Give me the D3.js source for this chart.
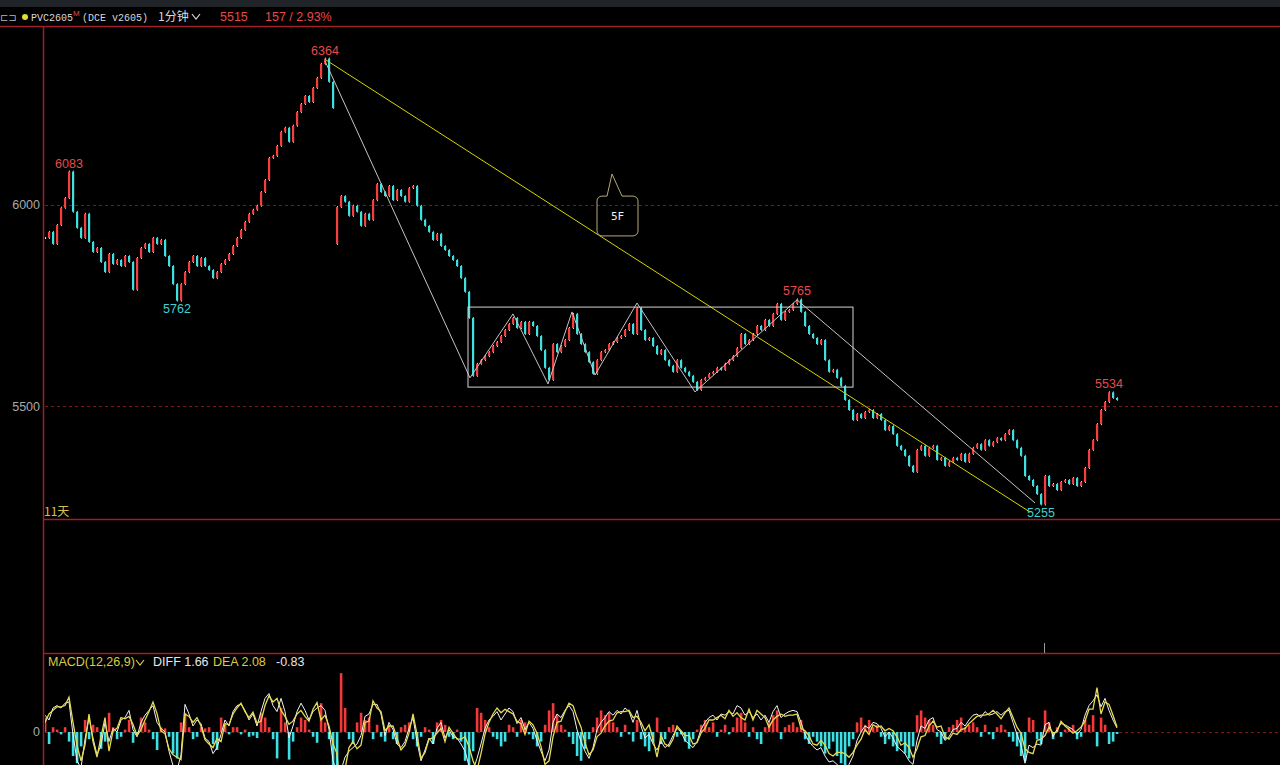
<!DOCTYPE html>
<html><head><meta charset="utf-8">
<script src="https://cdn.jsdelivr.net/npm/d3@7"></script>
<style>html,body{margin:0;padding:0;background:#000;overflow:hidden}</style>
</head><body><svg id="c" width="1280" height="765"></svg>
<script>
// ---------- DATA ----------
const closes = [
5918,5933,5903,5950,5993,6017,6083,5983,5943,5918,
5978,5908,5883,5893,5858,5833,5878,5853,5863,5848,
5873,5858,5789,5868,5893,5903,5883,5918,5903,5913,
5873,5848,5803,5762,5803,5833,5858,5873,5848,5868,
5848,5838,5818,5833,5853,5863,5878,5898,5918,5938,
5958,5978,5988,5998,6032,6062,6117,6122,6147,6182,
6192,6157,6197,6231,6251,6271,6256,6291,6316,6351,
6364,6306,6241,5995,6022,6008,5973,5998,5983,5948,
5978,5963,6012,6052,6032,6022,6047,6012,6037,6022,
6008,6042,6047,5998,5963,5948,5933,5913,5928,5898,
5888,5873,5863,5848,5818,5784,5719,5575,5605,5614,
5624,5634,5649,5659,5674,5689,5704,5719,5694,5709,
5679,5709,5699,5674,5639,5595,5565,5654,5634,5649,
5664,5694,5729,5679,5654,5634,5609,5580,5614,5634,
5639,5654,5659,5669,5674,5689,5704,5679,5744,5689,
5664,5669,5649,5629,5639,5614,5600,5585,5614,5595,
5585,5575,5560,5540,5565,5570,5580,5585,5595,5590,
5605,5614,5624,5644,5679,5654,5664,5679,5699,5689,
5714,5699,5729,5754,5714,5734,5739,5754,5765,5734,
5699,5679,5669,5654,5664,5614,5585,5590,5570,5550,
5515,5490,5465,5480,5470,5485,5490,5470,5480,5465,
5440,5450,5430,5401,5391,5376,5351,5336,5391,5401,
5376,5396,5401,5366,5371,5351,5361,5371,5366,5381,
5361,5381,5396,5405,5391,5415,5401,5410,5420,5415,
5430,5440,5415,5396,5376,5326,5316,5301,5281,5255,
5326,5301,5306,5291,5311,5316,5306,5321,5301,5311,
5346,5391,5415,5455,5490,5510,5534,5520,5515
];
// session gap: candle that opens away from the previous close
const gapOpens = [{index: 73, open: 5903}];

const diffs = [
7,5,10,11,10,12,12.5,-1,-12,-15,
-3,6,-2.5,-9.5,-5.5,4,-4,1.5,0,5,
6,9,1,-2,4,7,9,11,4,1.5,
0,-8,-14,-16,-9.5,11.5,7.5,2.5,5,3.5,
-2.5,-4,-9,-6.5,-1,5,2.5,8.5,11,11.5,
9,5,7.5,2.5,8.5,14,16,11,8.5,14,
8.5,-2.5,2.5,8.5,12,9,5,8.5,10,11,
9,1,-12,-17,-16,-10.5,-8,-6.5,-5,-1.5,
6.5,7.5,11.5,11.5,7.5,-1.5,4,1,-5,-6.5,
-4,1.5,6,-4,-12,-7.5,-2.5,-5,1.5,4,
-2.5,1,-2,-2.5,-5,-8,-14,-16,-11,-5,
1.5,5,6.5,8.5,5,7.5,10,8.5,3.5,6,
1,4,1.5,-3.5,-8,-12,-7.5,4,7.5,6,
9,11,8.5,1,-4,-8,-11,-6.5,1,4,
6,8.5,7,9,7.5,10,8.5,4,9,2.5,
-2.5,-1,-5,-7.5,-4,-6.5,-5,-1.5,1.5,0,
-3.5,-5,-6.5,-4,1,4,6,7,5,7.5,
7,8.5,7.5,11,10,7,8.5,6,7.5,5,
7,4,8.5,11,6,7.5,8.5,9,8.5,4,
-1,-4,-6,-7.5,-6.5,-10,-12.5,-12,-13.5,-15,
-16,-13.5,-10,-3.5,0,2.5,1.5,4,3.5,1.5,
-2,0,-2.5,-6,-7.5,-9,-12,-13.5,-3.5,2.5,
1.5,5,6,1,0,-3.5,-2,1,1.5,4,
2.5,5,7,7.5,6,8.5,7,7.5,8.5,7,
8.5,9,4,-1,-5.5,-13,-5.5,-6.5,-5,-5.5,
3,4,-2,1,3.5,3,2,1,-1,1,
7,11,13,15.5,10.5,14,9,5,1.66
];

const hists = [
6,-5,2,1,-1,2,-4,-10,-13,-6,
5,-3,3,2,-7,-4,8,2,-3,-2,
1,5,-4.5,-1,6,4,1,-3,-7.5,2,
1.5,-2,-9,-11,4,8,2,-3,-2,2,
1.5,2,-5,-7.5,6,3,-1,2,2,-1,
1,-2,-1.5,-2.5,8,6,2,-3,-11,10,
4,-11.5,-4,2,6,5,1,-2,-4.5,12,
4,-3,-14,-16,24.5,10,-3,-5,4,8,
5,6,-3,3,-2,-4,3,-3,-5,2,
3,4,-3,-6,-2,2,1,-5,4,5,
3,-2,-3,1,-4,-12,-16,-8,10,8,
5,2,-2,-3,-6,-4,3,2,-2,5,
4,-1,-3,-6,-4,3,9,12,7,3,
1,-2,-5,-10,-12,-7,-3,2,6,9,
7,8,4,2,-2,3,-1,-4,5,-3,
-6,-8,-4,6,-5,-3,2,3,-2,-1,
-4,-7,-3,1,3,5,2,4,-2,1,
3,-1,2,6,8,4,-2,2,-3,-5,
2,4,7,9,-3,2,3,4,2,5,
-3,-5,-2,-4,-6,-9,-7,-4,-10,-13,
-14,-6,-3,4,6,3,5,2,3,-2,
-5,-3,-6,-8,-4,-9,-11,-6,7,9,
6,5,3,-2,-5,-3,2,3,5,6,
2,3,4,2,-2,3,-1,-3,2,3,
1,-2,-4,-6,-10,-12,6,5,-3,-5,
9,4,-3,2,-2,1,2,3,-3,-2,
5,3,7,-6,6,3,-5,-4,-0.83
];

const priceTicks = [6000, 5500];
const macdTicks = [0];

const extremeLabels = [
  {index: 6,   price: 6083, text: "6083", kind: "high"},
  {index: 33,  price: 5762, text: "5762", kind: "low"},
  {index: 70,  price: 6364, text: "6364", kind: "high"},
  {index: 188, price: 5765, text: "5765", kind: "high"},
  {index: 249, price: 5255, text: "5255", kind: "low"},
  {index: 266, price: 5534, text: "5534", kind: "high"}
];

const trendLine = [[70, 6362], [246.3, 5236]];
const zigzag = [[70,6358],[106.25,5570],[117,5729],[125.75,5555],[131.75,5734],
                [137.5,5577],[148,5756],[162.5,5535],[188,5764],[247.5,5259]];
const boxRange = {from: 105.75, to: 202, top: 5746, bottom: 5547};
const callout = {left: 138, right: 148.25, top: 6022, bottom: 5923, tipIndex: 141.75, tipPrice: 6077, text: "5F"};
const cursorIndex = 249.75;

const header = {symbol: "PVC2605", exch: "(DCE v2605)", period: "1分钟", last: "5515", change: "157 / 2.93%"};
const macdLabel = {name: "MACD(12,26,9)", diff: "DIFF 1.66", dea: "DEA 2.08", macd: "-0.83"};
const spanLabel = "11天";

// ---------- DRAW ----------
const W = 1280, H = 765;
const svg = d3.select('#c');
const RED_LINE = '#a01e26', GRID = '#7c1a1a';
const UP = '#f04040', DN = '#3ee0e0';
const SANS = '"Liberation Sans", Arial, sans-serif';

svg.append('rect').attr('width', W).attr('height', H).attr('fill', '#000');
svg.append('rect').attr('width', W).attr('height', 7).attr('fill', '#202328');

const x = d3.scaleLinear().domain([0, closes.length - 1]).range([45, 1117]);
const y = d3.scaleLinear().domain([5219, 6445]).range([519, 26]);
const ym = d3.scaleLinear().domain([-13.75, 32.9]).range([765, 653]);

const defs = svg.append('defs');
defs.append('clipPath').attr('id', 'cm').append('rect').attr('x', 45).attr('y', 27).attr('width', 1235).attr('height', 491);
defs.append('clipPath').attr('id', 'cd').append('rect').attr('x', 45).attr('y', 654).attr('width', 1235).attr('height', 111);

// grid lines
priceTicks.forEach(p => {
  svg.append('line').attr('x1', 45).attr('x2', W).attr('y1', Math.round(y(p)) + 0.5).attr('y2', Math.round(y(p)) + 0.5)
    .attr('stroke', GRID).attr('stroke-dasharray', '3,3');
});
macdTicks.forEach(v => {
  svg.append('line').attr('x1', 45).attr('x2', W).attr('y1', Math.round(ym(v)) + 0.5).attr('y2', Math.round(ym(v)) + 0.5)
    .attr('stroke', GRID).attr('stroke-dasharray', '3,3');
});

// axes (labels only)
const ax = svg.append('g').attr('transform', 'translate(42,0)')
  .call(d3.axisLeft(y).tickValues(priceTicks).tickSize(0).tickPadding(2).tickFormat(d3.format('d')));
ax.select('.domain').remove();
ax.selectAll('text').attr('fill', '#a8a8a8').style('font', '12.5px ' + SANS);
const axm = svg.append('g').attr('transform', 'translate(42,0)')
  .call(d3.axisLeft(ym).tickValues(macdTicks).tickSize(0).tickPadding(2));
axm.select('.domain').remove();
axm.selectAll('text').attr('fill', '#a8a8a8').style('font', '12.5px ' + SANS);

// candles
const gapMap = new Map(gapOpens.map(g => [g.index, g.open]));
const candles = closes.map((c, i) => {
  const o = gapMap.has(i) ? gapMap.get(i) : (i > 0 ? closes[i - 1] : c);
  return {i, o, c};
});
const gm = svg.append('g').attr('clip-path', 'url(#cm)');
// thin connecting stroke (wick)
gm.selectAll('line.w').data(candles).join('line').attr('class', 'w')
  .attr('x1', d => x(d.i) + 0.5).attr('x2', d => x(d.i) + 0.5)
  .attr('y1', d => y(d.o) + (d.c > d.o ? 1 : -1)).attr('y2', d => y(d.c) + (d.c > d.o ? -1 : 1))
  .attr('stroke', d => d.c >= d.o ? '#d8f4f4' : DN).attr('stroke-width', 1).attr('opacity', 0.9);
gm.selectAll('rect.k').data(candles).join('rect').attr('class', 'k')
  .attr('x', d => x(d.i) - 1).attr('width', 2.2)
  .attr('y', d => Math.min(y(d.o), y(d.c)))
  .attr('height', d => Math.max(1, Math.abs(y(d.o) - y(d.c))))
  .attr('fill', d => d.c > d.o ? UP : d.c < d.o ? DN : '#e8e8e8');

// drawings
gm.append('line').attr('x1', x(trendLine[0][0])).attr('y1', y(trendLine[0][1]))
  .attr('x2', x(trendLine[1][0])).attr('y2', y(trendLine[1][1]))
  .attr('stroke', '#d6d600').attr('stroke-width', 1);
gm.append('path').attr('d', d3.line().x(d => x(d[0])).y(d => y(d[1]))(zigzag))
  .attr('fill', 'none').attr('stroke', '#c4c4c4').attr('stroke-width', 1);
gm.append('rect').attr('x', x(boxRange.from)).attr('y', y(boxRange.top))
  .attr('width', x(boxRange.to) - x(boxRange.from)).attr('height', y(boxRange.bottom) - y(boxRange.top))
  .attr('fill', 'none').attr('stroke', '#d4d4d4').attr('stroke-width', 1);

// callout
{
  const L = x(callout.left), R = x(callout.right), T = y(callout.top), B = y(callout.bottom);
  const tx = x(callout.tipIndex), ty = y(callout.tipPrice), r = 5;
  const p = d3.path();
  p.moveTo(L + r, T);
  p.lineTo(tx - 5, T); p.lineTo(tx, ty); p.lineTo(tx + 10, T);
  p.lineTo(R - r, T); p.arcTo(R, T, R, T + r, r);
  p.lineTo(R, B - r); p.arcTo(R, B, R - r, B, r);
  p.lineTo(L + r, B); p.arcTo(L, B, L, B - r, r);
  p.lineTo(L, T + r); p.arcTo(L, T, L + r, T, r);
  p.closePath();
  gm.append('path').attr('d', p.toString()).attr('fill', 'none').attr('stroke', '#b9a878').attr('stroke-width', 1);
  gm.append('text').attr('x', (L + R) / 2).attr('y', (T + B) / 2 + 4).attr('text-anchor', 'middle')
    .attr('fill', '#f0f0f0').style('font', '11px "DejaVu Sans Mono", monospace').text(callout.text);
}

// extreme labels
svg.selectAll('text.ex').data(extremeLabels).join('text').attr('class', 'ex')
  .attr('x', d => x(d.index)).attr('y', d => d.kind === 'high' ? y(d.price) - 4 : y(d.price) + 12.5)
  .attr('text-anchor', 'middle')
  .attr('fill', d => d.kind === 'high' ? '#e8484a' : '#40cfd4')
  .style('font', '12.5px ' + SANS).text(d => d.text);

// MACD
const gd = svg.append('g').attr('clip-path', 'url(#cd)');
gd.selectAll('rect.h').data(hists).join('rect').attr('class', 'h')
  .attr('x', (d, i) => x(i) - 1.2).attr('width', 2.6)
  .attr('y', d => Math.min(ym(0), ym(d))).attr('height', d => Math.abs(ym(d) - ym(0)))
  .attr('fill', d => d >= 0 ? '#f23a3a' : '#3ee0e6');
const dea = diffs.map((d, i) => d - hists[i] / 2);
gd.append('path').attr('d', d3.line().x((d, i) => x(i)).y(d => ym(d))(diffs))
  .attr('fill', 'none').attr('stroke', '#f2f2f2').attr('stroke-width', 1);
gd.append('path').attr('d', d3.line().x((d, i) => x(i)).y(d => ym(d))(dea))
  .attr('fill', 'none').attr('stroke', '#e6dc50').attr('stroke-width', 1.3);

// panel borders
svg.append('line').attr('x1', 0).attr('x2', W).attr('y1', 26.5).attr('y2', 26.5).attr('stroke', RED_LINE).attr('stroke-width', 1.5);
svg.append('line').attr('x1', 44).attr('x2', W).attr('y1', 519.5).attr('y2', 519.5).attr('stroke', RED_LINE).attr('stroke-width', 1.5);
svg.append('line').attr('x1', 44).attr('x2', W).attr('y1', 653.5).attr('y2', 653.5).attr('stroke', RED_LINE).attr('stroke-width', 1.5);
svg.append('line').attr('x1', 43.5).attr('x2', 43.5).attr('y1', 26).attr('y2', H).attr('stroke', RED_LINE).attr('stroke-width', 1.5);

// cursor tick in volume panel
svg.append('line').attr('x1', Math.round(x(cursorIndex)) + 0.5).attr('x2', Math.round(x(cursorIndex)) + 0.5)
  .attr('y1', 643).attr('y2', 653).attr('stroke', '#9a9a9a');

// span label
svg.append('text').attr('x', 44).attr('y', 516).attr('fill', '#d8c050')
  .style('font', '12px "Noto Sans CJK SC", sans-serif').text(spanLabel);

// header
const hd = svg.append('g');
hd.append('text').attr('x', 0).attr('y', 21).attr('fill', '#b8b8b8').style('font', '10px "DejaVu Sans", sans-serif').text('⊏⊐');
hd.append('circle').attr('cx', 25).attr('cy', 17).attr('r', 3).attr('fill', '#e4dc30');
hd.append('text').attr('x', 31).attr('y', 21).attr('fill', '#d8d8d8').style('font', '10px "Liberation Mono", monospace').text(header.symbol);
hd.append('text').attr('x', 73).attr('y', 16).attr('fill', '#e8484a').style('font', '8px ' + SANS).text('M');
hd.append('text').attr('x', 82).attr('y', 21).attr('fill', '#d8d8d8').style('font', '10px "Liberation Mono", monospace').text(header.exch);
hd.append('text').attr('x', 158).attr('y', 21).attr('fill', '#d8d8d8').style('font', '12px "Noto Sans CJK SC", sans-serif').text(header.period);
hd.append('path').attr('d', 'M192,14 L196,19 L200,14').attr('fill', 'none').attr('stroke', '#d8d8d8').attr('stroke-width', 1.2);
hd.append('text').attr('x', 220).attr('y', 21).attr('fill', '#e8484a').style('font', '12.5px ' + SANS).text(header.last);
hd.append('text').attr('x', 265).attr('y', 21).attr('fill', '#e8484a').style('font', '12.5px ' + SANS).text(header.change);

// MACD label
const ml = svg.append('g');
ml.append('text').attr('x', 48).attr('y', 666).attr('fill', '#d8cc40').style('font', '12.5px ' + SANS).text(macdLabel.name);
ml.append('path').attr('d', 'M136,660 L140,665 L144,660').attr('fill', 'none').attr('stroke', '#d8cc40').attr('stroke-width', 1.2);
ml.append('text').attr('x', 153).attr('y', 666).attr('fill', '#e8e8e8').style('font', '12.5px ' + SANS).text(macdLabel.diff);
ml.append('text').attr('x', 213).attr('y', 666).attr('fill', '#d8cc40').style('font', '12.5px ' + SANS).text(macdLabel.dea);
ml.append('text').attr('x', 276).attr('y', 666).attr('fill', '#e8e8e8').style('font', '12.5px ' + SANS).text(macdLabel.macd);
</script>
</body></html>
